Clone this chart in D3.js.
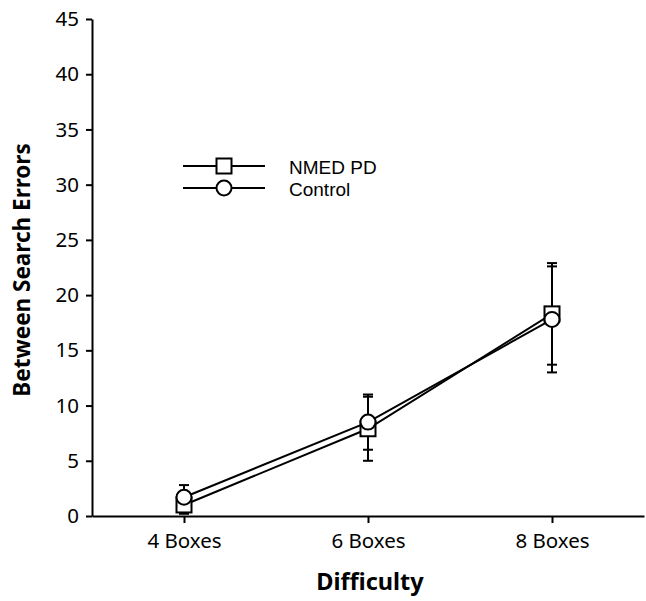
<!DOCTYPE html>
<html><head><meta charset="utf-8">
<script src="https://cdn.jsdelivr.net/npm/d3@7"></script>
<style>body{margin:0;background:#fff}svg{display:block}</style>
</head><body>
<script>
const categories = ["4 Boxes", "6 Boxes", "8 Boxes"];
const nmedMean = [1.0, 7.9, 18.3];
const nmedErr = [0.8, 2.9, 4.6];
const controlMean = [1.7, 8.5, 17.8];
const controlErr = [1.1, 2.5, 4.8];
const yTicks = [0, 5, 10, 15, 20, 25, 30, 35, 40, 45];
const seriesNames = ["NMED PD", "Control"];

const W = 646, H = 601;
const svg = d3.select("body").append("svg").attr("width", W).attr("height", H);
const font = "Noto Sans, sans-serif";

const x = d3.scalePoint().domain(categories).range([92, 644]).padding(0.5);
const y = d3.scaleLinear().domain([0, 45]).range([516, 19]);

// axes
const xAxis = svg.append("g").attr("transform", "translate(0,516)")
  .call(d3.axisBottom(x).tickSize(7).tickSizeOuter(0));
xAxis.select(".domain").attr("stroke-width", 2);
xAxis.selectAll(".tick line").attr("stroke-width", 2);
xAxis.selectAll("text").attr("font-family", font).attr("font-size", 20.5).attr("fill", "#000")
  .attr("dy", null).attr("y", 32).attr("dominant-baseline", "alphabetic");

const yAxis = svg.append("g").attr("transform", "translate(92,0)")
  .call(d3.axisLeft(y).tickValues(yTicks).tickSize(6).tickSizeOuter(0));
yAxis.select(".domain").attr("stroke-width", 2);
yAxis.selectAll(".tick line").attr("stroke-width", 2);
yAxis.selectAll("text").attr("font-family", font).attr("font-size", 20.5).attr("fill", "#000").attr("x", -13);

// titles
svg.append("text").attr("x", 370).attr("y", 590).attr("text-anchor", "middle")
  .attr("font-family", font).attr("font-weight", "bold").attr("font-size", 23.5).text("Difficulty");
svg.append("text").attr("transform", "translate(30,270) rotate(-90)").attr("text-anchor", "middle")
  .attr("font-family", font).attr("font-weight", "bold").attr("font-size", 22.5).text("Between Search Errors");

const series = [
  {name: seriesNames[0], mean: nmedMean, err: nmedErr, shape: "square"},
  {name: seriesNames[1], mean: controlMean, err: controlErr, shape: "circle"}
];

const line = d3.line().x((d, i) => x(categories[i])).y(d => y(d));
const ms = 15;

series.forEach(s => {
  const g = svg.append("g");
  s.mean.forEach((m, i) => {
    const cx = x(categories[i]);
    g.append("line").attr("x1", cx).attr("x2", cx).attr("y1", y(m - s.err[i])).attr("y2", y(m + s.err[i]))
      .attr("stroke", "#000").attr("stroke-width", 2);
    [m - s.err[i], m + s.err[i]].forEach(v => {
      g.append("line").attr("x1", cx - 5).attr("x2", cx + 5).attr("y1", y(v)).attr("y2", y(v))
        .attr("stroke", "#000").attr("stroke-width", 2);
    });
  });
  g.append("path").datum(s.mean).attr("d", line).attr("fill", "none").attr("stroke", "#000").attr("stroke-width", 2);
});

function marker(g, shape, cx, cy) {
  if (shape === "square") {
    g.append("rect").attr("x", cx - ms / 2).attr("y", cy - ms / 2).attr("width", ms).attr("height", ms)
      .attr("fill", "#fff").attr("stroke", "#000").attr("stroke-width", 2);
  } else {
    g.append("circle").attr("cx", cx).attr("cy", cy).attr("r", ms / 2)
      .attr("fill", "#fff").attr("stroke", "#000").attr("stroke-width", 2);
  }
}

series.forEach(s => {
  const g = svg.append("g");
  s.mean.forEach((m, i) => marker(g, s.shape, x(categories[i]), y(m)));
});

// legend
const lg = svg.append("g");
series.forEach((s, k) => {
  const ly = 166 + k * 22;
  lg.append("line").attr("x1", 183).attr("x2", 265).attr("y1", ly).attr("y2", ly).attr("stroke", "#000").attr("stroke-width", 2);
  marker(lg, s.shape, 224, ly);
  lg.append("text").attr("x", 289).attr("y", ly + 8).attr("font-family", "Liberation Sans, Arial, sans-serif")
    .attr("font-size", 19).text(s.name);
});
</script>
</body></html>
